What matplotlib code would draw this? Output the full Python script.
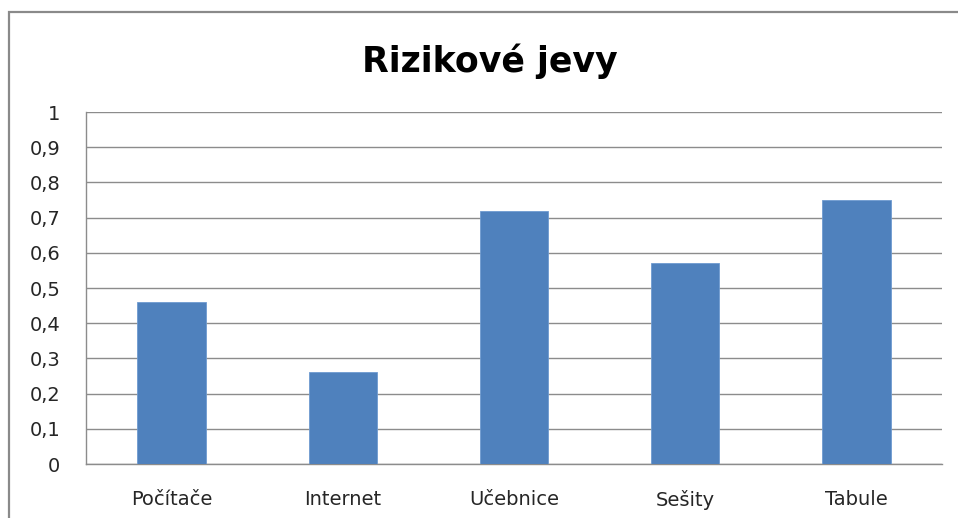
import matplotlib.pyplot as plt
from matplotlib.patches import Rectangle
import numpy as np

categories = ["Počítače", "Internet", "Učebnice", "Sešity", "Tabule"]
values = [0.46, 0.26, 0.72, 0.57, 0.75]
yticks = [0, 0.1, 0.2, 0.3, 0.4, 0.5, 0.6, 0.7, 0.8, 0.9, 1]
ytick_labels = ["0", "0,1", "0,2", "0,3", "0,4", "0,5", "0,6", "0,7", "0,8", "0,9", "1"]

W, H = 958, 518
fig = plt.figure(figsize=(W / 100, H / 100), dpi=100)
plt.rcParams["font.family"] = ["DejaVu Sans"]

# outer chart border (only left/top visible in the reference)
fig.patches.append(Rectangle((9 / W, -0.1), 1.2, 1 - 12 / H + 0.1,
                             transform=fig.transFigure, fill=False,
                             edgecolor="#8a8a8a", linewidth=1.6))

left, right, top, bottom = 86, 942, 112, 464
ax = fig.add_axes([left / W, 1 - bottom / H, (right - left) / W, (bottom - top) / H])

x = np.arange(len(categories))
ax.bar(x, values, width=0.4, color="#4F81BD", edgecolor="#6f9bd0", linewidth=0.6, zorder=3)

ax.set_xlim(-0.5, len(categories) - 0.5)
ax.set_ylim(0, 1)
ax.set_yticks(yticks)
ax.set_yticklabels(ytick_labels)
ax.set_xticks(x)
ax.set_xticklabels(categories)
ax.tick_params(axis="both", length=0, labelsize=14, colors="#262626")
ax.tick_params(axis="y", pad=18.5)
ax.tick_params(axis="x", pad=18.5)

ax.grid(axis="y", color="#8c8c8c", linewidth=1.0, zorder=0)
ax.set_axisbelow(True)
for side in ["top", "right"]:
    ax.spines[side].set_visible(False)
for side in ["left", "bottom"]:
    ax.spines[side].set_color("#8c8c8c")
    ax.spines[side].set_linewidth(1.0)

fig.text(490 / W, 1 - 61 / H, "Rizikové jevy", ha="center", va="center",
         fontsize=25, fontweight="bold", color="#000000")

fig.savefig("out.png", dpi=100)
